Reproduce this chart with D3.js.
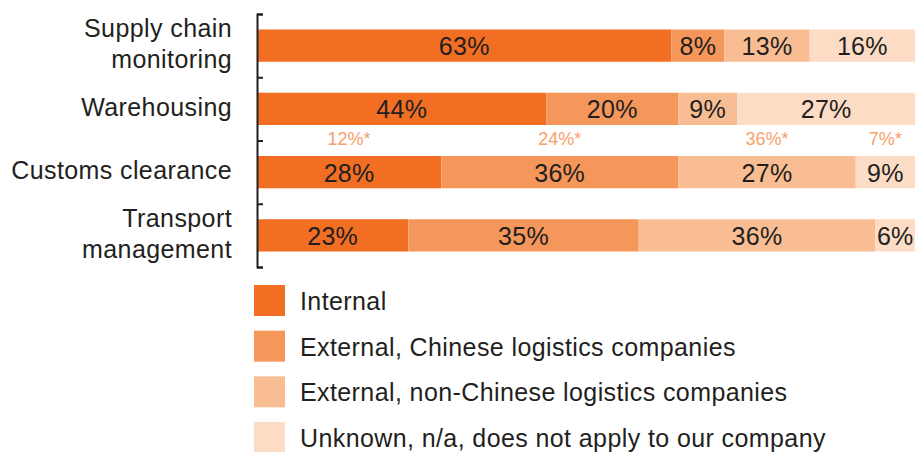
<!DOCTYPE html>
<html>
<head>
<meta charset="utf-8">
<script src="https://cdn.jsdelivr.net/npm/d3@7"></script>
<style>
  body { margin: 0; background: #fff; }
  svg text { font-family: "Liberation Sans", Arial, sans-serif; }
</style>
</head>
<body>
<svg id="chart" width="918" height="452"></svg>
<script>
// categories, top to bottom (label lines as printed)
var categories = ["Supply chain monitoring", "Warehousing", "Customs clearance", "Transport management"];
var categoryLines = [["Supply chain", "monitoring"], ["Warehousing"], ["Customs clearance"], ["Transport", "management"]];

// series values (%)
var seriesNames = ["Internal", "External, Chinese logistics companies", "External, non-Chinese logistics companies", "Unknown, n/a, does not apply to our company"];
var internal = [63, 44, 28, 23];
var chineseExternal = [8, 20, 36, 35];
var foreignExternal = [13, 9, 27, 36];
var unknown = [16, 27, 9, 6];

// starred figures printed above the customs clearance bar
var starredRow = "Customs clearance";
var starredValues = [12, 24, 36, 7];

var colors = ["#f26e22", "#f5965a", "#f9bd93", "#fddcc5"];

var svg = d3.select("#chart");

var x = d3.scaleLinear().domain([0, 100]).range([257, 915]);
var y = d3.scaleBand().domain(categories).range([14, 267]).paddingInner(0.49).paddingOuter(0.245);
var color = d3.scaleOrdinal().domain(seriesNames).range(colors);

// build stack rows from the arrays
var rows = categories.map(function(c, i) {
    var r = { category: c };
    r[seriesNames[0]] = internal[i];
    r[seriesNames[1]] = chineseExternal[i];
    r[seriesNames[2]] = foreignExternal[i];
    r[seriesNames[3]] = unknown[i];
    return r;
});
var stacked = d3.stack().keys(seriesNames)(rows);

var layers = svg.append("g").selectAll("g")
    .data(stacked)
    .enter().append("g")
    .attr("fill", function(d) { return color(d.key); });

layers.selectAll("rect")
    .data(function(d) { return d; })
    .enter().append("rect")
    .attr("x", function(d) { return x(d[0]); })
    .attr("y", function(d) { return y(d.data.category); })
    .attr("width", function(d) { return x(d[1]) - x(d[0]); })
    .attr("height", y.bandwidth());

// value labels
layers.selectAll("text")
    .data(function(d) { return d; })
    .enter().append("text")
    .attr("x", function(d) { return (x(d[0]) + x(d[1])) / 2; })
    .attr("y", function(d) { return y(d.data.category) + y.bandwidth() / 2; })
    .attr("dy", "0.38em")
    .attr("text-anchor", "middle")
    .attr("fill", "#231f20")
    .style("font-size", "25px")
    .style("letter-spacing", "0.3px")
    .text(function(d) { return (d[1] - d[0]) + "%"; });

// starred figures, centred over each segment of the customs row
var starredIndex = categories.indexOf(starredRow);
svg.append("g").selectAll("text")
    .data(stacked)
    .enter().append("text")
    .attr("x", function(d) { return (x(d[starredIndex][0]) + x(d[starredIndex][1])) / 2; })
    .attr("y", y(starredRow) - 11)
    .attr("text-anchor", "middle")
    .attr("fill", "#f6a06c")
    .style("font-size", "18px")
    .text(function(d, i) { return starredValues[i] + "%*"; });

// bracket axis with ticks between the bars
var edges = d3.scaleLinear().domain([0, categories.length]).range([14, 267]);
svg.append("g")
    .attr("transform", "translate(257,0)")
    .call(d3.axisRight(edges).tickValues([0, 1, 2, 3, 4]).tickSize(6).tickSizeOuter(6).tickFormat(""))
    .call(function(g) {
        g.selectAll("path, line").attr("stroke", "#231f20").attr("stroke-width", 2);
    });

// category labels
var labels = svg.append("g").selectAll("text")
    .data(categories)
    .enter().append("text")
    .attr("text-anchor", "end")
    .attr("fill", "#231f20")
    .style("font-size", "25px")
    .style("letter-spacing", "0.4px");

labels.each(function(c, i) {
    var lines = categoryLines[i];
    var mid = y(c) + y.bandwidth() / 2 + 7;
    d3.select(this).selectAll("tspan")
        .data(lines)
        .enter().append("tspan")
        .attr("x", 232)
        .attr("y", function(l, j) { return mid + (j - (lines.length - 1) / 2) * 31; })
        .text(function(l) { return l; });
});

// legend
var legendY = d3.scalePoint().domain(seriesNames).range([301, 438]);
var legend = svg.append("g").selectAll("g")
    .data(seriesNames)
    .enter().append("g")
    .attr("transform", function(d) { return "translate(254," + legendY(d) + ")"; });

legend.append("rect")
    .attr("x", 0)
    .attr("y", -16)
    .attr("width", 31)
    .attr("height", 31)
    .attr("fill", function(d) { return color(d); });

legend.append("text")
    .attr("x", 46)
    .attr("y", 9)
    .attr("fill", "#231f20")
    .style("font-size", "25px")
    .style("letter-spacing", "0.4px")
    .text(function(d) { return d; });
</script>
</body>
</html>
